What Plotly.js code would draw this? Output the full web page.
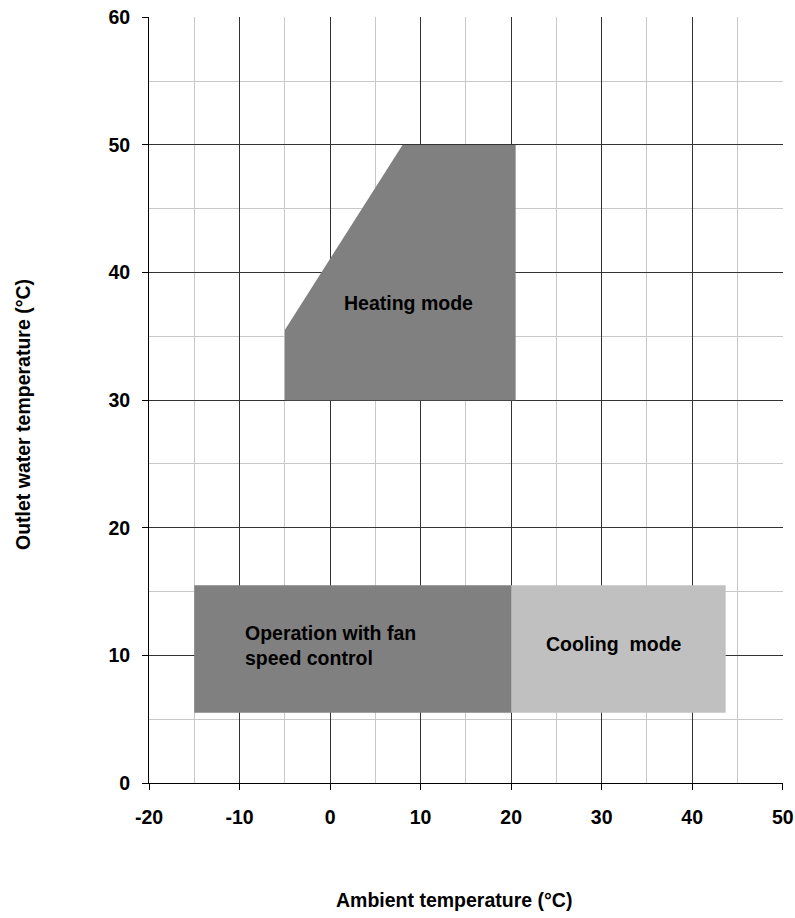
<!DOCTYPE html>
<html>
<head>
<meta charset="utf-8">
<script src="https://cdn.plot.ly/plotly-3.0.1.min.js"></script>
<style>html,body{margin:0;padding:0;background:#fff;}#chart{width:795px;height:918px;}</style>
</head>
<body>
<div id="chart"></div>
<script>
// Operating envelope polygons (ambient °C, outlet water °C)
const heatingX = [-5, -5, 8, 20.5, 20.5, -5];
const heatingY = [30, 35.5, 50, 50, 30, 30];
const fanX = [-15, -15, 20, 20, -15];
const fanY = [5.5, 15.5, 15.5, 5.5, 5.5];
const coolingX = [20, 20, 43.7, 43.7, 20];
const coolingY = [5.5, 15.5, 15.5, 5.5, 5.5];

const xTickVals = [-20, -10, 0, 10, 20, 30, 40, 50];
const xTickText = ['-20', '-10', '0', '10', '20', '30', '40', '50'];
const yTickVals = [0, 10, 20, 30, 40, 50, 60];
const yTickText = ['0', '10', '20', '30', '40', '50', '60'];

const labels = ['Heating mode', 'Operation with fan<br>speed control', 'Cooling  mode'];
const labelX = [8.7, -9.6, 31.4];
const labelY = [37.6, 10.8, 10.9];

const xTitle = 'Ambient temperature (°C)';
const yTitle = 'Outlet water temperature (°C)';

const FONT = '"Liberation Sans", Arial, sans-serif';
const bold = (s) => ({family: FONT, size: s, color: '#000', weight: 'bold'});

const traces = [
  {x: fanX, y: fanY, fill: 'toself', fillcolor: '#808080', mode: 'none', hoverinfo: 'skip', showlegend: false},
  {x: coolingX, y: coolingY, fill: 'toself', fillcolor: '#c0c0c0', mode: 'none', hoverinfo: 'skip', showlegend: false},
  {x: heatingX, y: heatingY, fill: 'toself', fillcolor: '#808080', mode: 'none', hoverinfo: 'skip', showlegend: false}
];

const annotations = labels.map((t, i) => ({
  x: labelX[i], y: labelY[i], xref: 'x', yref: 'y', text: t, showarrow: false,
  xanchor: i === 1 ? 'left' : 'center', yanchor: 'middle', align: 'left',
  font: bold(19.5)
}));
annotations.push({
  x: 0.481, y: -0.1527, xref: 'paper', yref: 'paper', text: xTitle, showarrow: false,
  xanchor: 'center', yanchor: 'middle', font: bold(19.5)
});
annotations.push({
  x: -0.1987, y: 0.4804, xref: 'paper', yref: 'paper', text: yTitle, showarrow: false,
  textangle: -90, xanchor: 'center', yanchor: 'middle', font: bold(19.5)
});

const layout = {
  width: 795, height: 918,
  margin: {l: 149, r: 12, t: 17, b: 135},
  paper_bgcolor: '#ffffff', plot_bgcolor: '#ffffff',
  font: bold(19.5),
  xaxis: {
    range: [-20, 50.03], tickvals: xTickVals, ticktext: xTickText,
    showline: true, linecolor: '#000', linewidth: 1, mirror: false,
    ticks: 'outside', ticklen: 6, tickcolor: '#000', tickwidth: 1,
    showgrid: true, gridcolor: '#333', gridwidth: 1, zeroline: false,
    minor: {dtick: 5, showgrid: true, gridcolor: '#c8c8c8', gridwidth: 1, ticks: ''},
    tickfont: bold(19.5),
    ticklabelstandoff: 11
  },
  yaxis: {
    range: [0, 60.02], tickvals: yTickVals, ticktext: yTickText,
    showline: true, linecolor: '#000', linewidth: 1, mirror: false,
    ticks: 'outside', ticklen: 6, tickcolor: '#000', tickwidth: 1,
    showgrid: true, gridcolor: '#333', gridwidth: 1, zeroline: false,
    minor: {dtick: 5, showgrid: true, gridcolor: '#c8c8c8', gridwidth: 1, ticks: ''},
    tickfont: bold(19.5),
    ticklabelstandoff: 8
  },
  annotations: annotations
};

Plotly.newPlot('chart', traces, layout, {staticPlot: true, displayModeBar: false});
</script>
</body>
</html>
